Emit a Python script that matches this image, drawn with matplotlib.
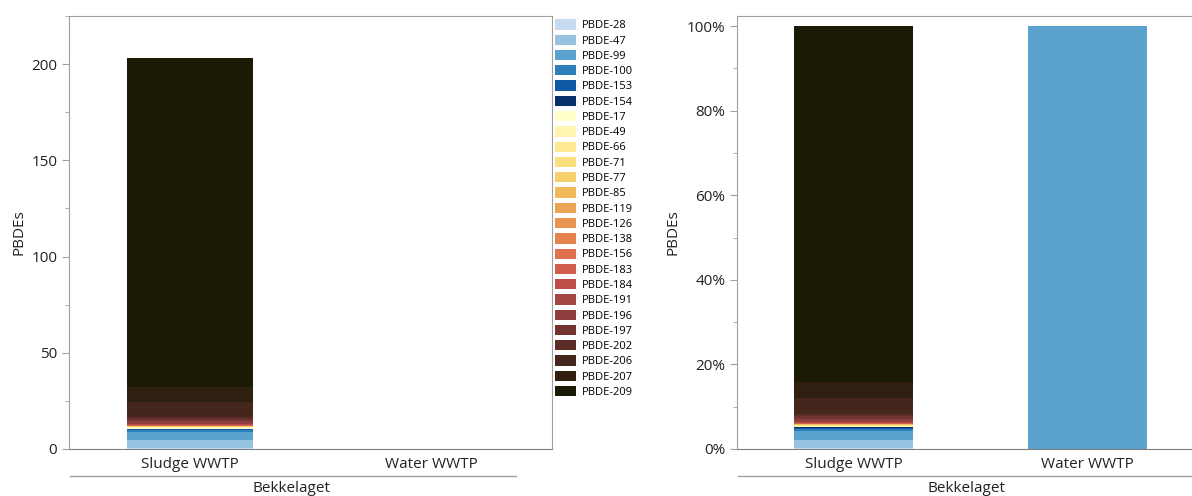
import numpy as np
import matplotlib
matplotlib.use("Agg")
import matplotlib.pyplot as plt
from matplotlib.ticker import MultipleLocator, PercentFormatter
from matplotlib.lines import Line2D

plt.rcParams['font.family'] = ['Open Sans', 'DejaVu Sans']

sites = ['Sludge WWTP', 'Water WWTP']
group = 'Bekkelaget'
congeners = ['PBDE-28', 'PBDE-47', 'PBDE-99', 'PBDE-100', 'PBDE-153', 'PBDE-154',
             'PBDE-17', 'PBDE-49', 'PBDE-66', 'PBDE-71', 'PBDE-77', 'PBDE-85',
             'PBDE-119', 'PBDE-126', 'PBDE-138', 'PBDE-156', 'PBDE-183', 'PBDE-184',
             'PBDE-191', 'PBDE-196', 'PBDE-197', 'PBDE-202', 'PBDE-206', 'PBDE-207',
             'PBDE-209']
sludge = [0.3, 4.2, 4.3, 1.0, 0.5, 0.3,
          0.1, 0.5, 0.4, 0.05, 0.05, 0.1,
          0.05, 0.05, 0.1, 0.05, 0.4, 0.3,
          0.3, 1.4, 1.3, 1.0, 7.6, 8.0,
          171.0]
water = [0, 0, 0.03, 0, 0, 0,
         0, 0, 0, 0, 0, 0,
         0, 0, 0, 0, 0, 0,
         0, 0, 0, 0, 0, 0,
         0]
colors = ['#c6dbef', '#95c3e0', '#5aa3cf', '#2f7ebc', '#0f59a3', '#08306b',
          '#ffffcc', '#fff4b0', '#fde992', '#f9df7e', '#f5d06c', '#f0b95a',
          '#eca555', '#e89350', '#e5834e', '#e0714e', '#d15e4c', '#bd4f48',
          '#a64644', '#8d3d3c', '#733331', '#5c2c27', '#44261c', '#2e1f11',
          '#1b1a04']

vals = np.array([sludge, water])  # rows = sites
pct = vals / vals.sum(axis=1, keepdims=True)

fig = plt.figure(figsize=(11.92, 4.96), dpi=100)
ax1 = fig.add_axes([69/1192, 47/496, 483/1192, 433/496])
ax2 = fig.add_axes([737/1192, 47/496, 467/1192, 433/496])

x = np.arange(len(sites))
grey = '#a0a0a0'


def style(ax):
    for s in ['left', 'top', 'right']:
        ax.spines[s].set_color(grey)
    ax.spines['bottom'].set_color('#808080')
    ax.tick_params(axis='y', which='both', colors=grey, labelcolor='#222222',
                   labelsize=11, length=5)
    ax.tick_params(axis='y', which='minor', length=3)
    ax.tick_params(axis='x', length=0, labelsize=11, labelcolor='#222222', pad=6)
    ax.set_xticks(x)
    ax.set_xticklabels(sites)
    ax.set_xlim(-0.5, 1.5)
    ax.set_ylabel('PBDEs', fontsize=11, color='#222222')


bottom = np.zeros(len(sites))
for i, name in enumerate(congeners):
    ax1.bar(x, vals[:, i], 0.52, bottom=bottom, color=colors[i], label=name)
    bottom += vals[:, i]
ax1.set_ylim(0, 225)
ax1.yaxis.set_major_locator(MultipleLocator(50))
ax1.yaxis.set_minor_locator(MultipleLocator(25))
style(ax1)
ax1.yaxis.set_label_coords(-0.088, 0.5)

bottom = np.zeros(len(sites))
for i, name in enumerate(congeners):
    ax2.bar(x, pct[:, i], 0.51, bottom=bottom, color=colors[i])
    bottom += pct[:, i]
ax2.set_ylim(0, 1.024)
ax2.yaxis.set_major_locator(MultipleLocator(0.2))
ax2.yaxis.set_minor_locator(MultipleLocator(0.1))
ax2.yaxis.set_major_formatter(PercentFormatter(1.0, decimals=0))
style(ax2)
ax2.yaxis.set_label_coords(-0.12, 0.5)

# group label under the categories
for ax, x0, x1, xc in [(ax1, 0.002, 0.925, 0.46), (ax2, 0.002, 0.983, 0.4925)]:
    ax.add_line(Line2D([x0, x1], [-0.062, -0.062], transform=ax.transAxes,
                       color=grey, lw=1, clip_on=False))
    ax.text(xc, -0.092, group, transform=ax.transAxes, ha='center', va='center',
            fontsize=11, color='#222222')

ax1.legend(loc='upper left', bbox_to_anchor=(1.0, 1.0), frameon=False,
           fontsize=8, handlelength=1.9, handleheight=1.05, handletextpad=0.45,
           labelspacing=0.30, borderaxespad=0.1, borderpad=0.2)

fig.savefig('out.png', dpi=100)
